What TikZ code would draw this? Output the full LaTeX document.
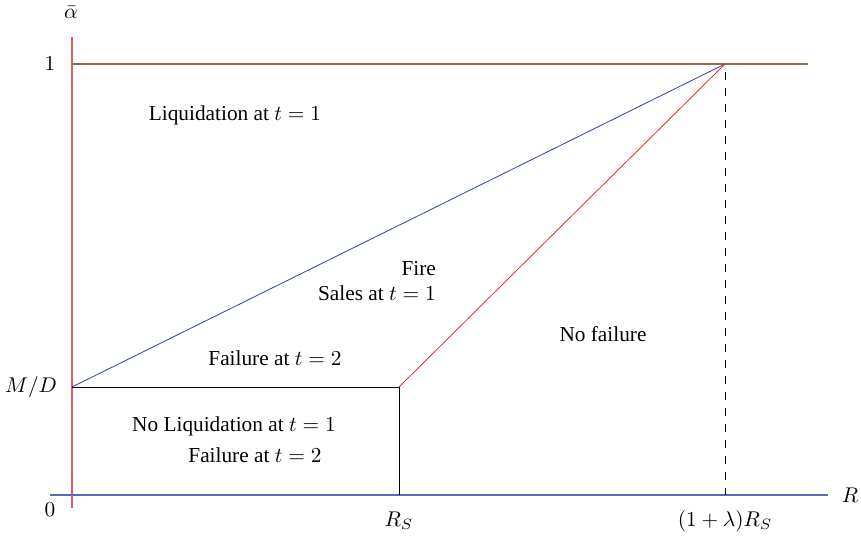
\documentclass[tikz,border=0pt]{standalone}
\usepackage{fontspec}
\setmainfont{Liberation Serif}
\usepackage{amsmath}
\usepackage{tikz}
\usetikzlibrary{positioning}
\definecolor{bndred}{RGB}{228,52,45}
\definecolor{bndblue}{RGB}{55,72,168}
\definecolor{axred}{RGB}{232,90,90}
\definecolor{axblue}{RGB}{90,105,195}
\definecolor{bndbrown}{RGB}{150,112,72}

\begin{document}
\begin{tikzpicture}[x=0.0165cm, y=-0.0165cm,
    bound/.style={line width=0.4pt},
    axis/.style={line width=0.6pt},
    region/.style={align=center, inner sep=1pt, font=\normalsize},
    tick/.style={inner sep=1pt}]
    \useasboundingbox (0,0) rectangle (861,538);
    \coordinate (ybot) at (72,508);
    \coordinate (ytop) at (72,37);
    \coordinate (xleft) at (50,495);
    \coordinate (xright) at (828,495);
    \coordinate (one) at (72,64);
    \coordinate (oneend) at (808,64);
    \coordinate (md) at (72,387);
    \coordinate (kink) at (399,387);
    \coordinate (rs) at (399,495);
    \coordinate (peak) at (725,64);
    \coordinate (peakfoot) at (725,495);
    % axes
    \draw[axis, axred] (ybot) -- (ytop);
    \draw[axis, axblue] (xleft) -- (xright);
    \node[tick] (alpha) at (71,12) {$\bar{\alpha}$};
    \node[tick] (rlab) at (850,495) {$R$};
    \node[tick] (onelab) at (50,64) {$1$};
    \node[tick] (mdlab) at (31,387) {$M/D$};
    \node[tick] (zero) at (50,510) {$0$};
    \node[tick] (rslab) at (399,521) {$R_S$};
    \node[tick] (rslamlab) at (725,521) {$(1+\lambda)R_S$};
    % boundaries
    \draw[axis, bndbrown] (one) -- (oneend);
    \draw[bound, bndblue] (md) -- (peak);
    \draw[bound, bndred] (kink) -- (peak);
    \draw[bound] (md) -- (kink) -- (rs);
    \draw[bound, dash pattern=on 3.75pt off 3.75pt, dash phase=3.75pt] (peak) -- (peakfoot);
    % regions
    \node[region] (liq) at (235,115) {Liquidation at $t=1$};
    \node[region, align=right] (fire) at (377,281) {Fire\\Sales at $t=1$};
    \node[region] (fail) at (275,358) {Failure at $t=2$};
    \node[region] (noliq) at (234,426) {No Liquidation at $t=1$};
    \node[region] (fail2) at (255,455) {Failure at $t=2$};
    \node[region] (nofail) at (603,334) {No failure};
\end{tikzpicture}
\end{document}
